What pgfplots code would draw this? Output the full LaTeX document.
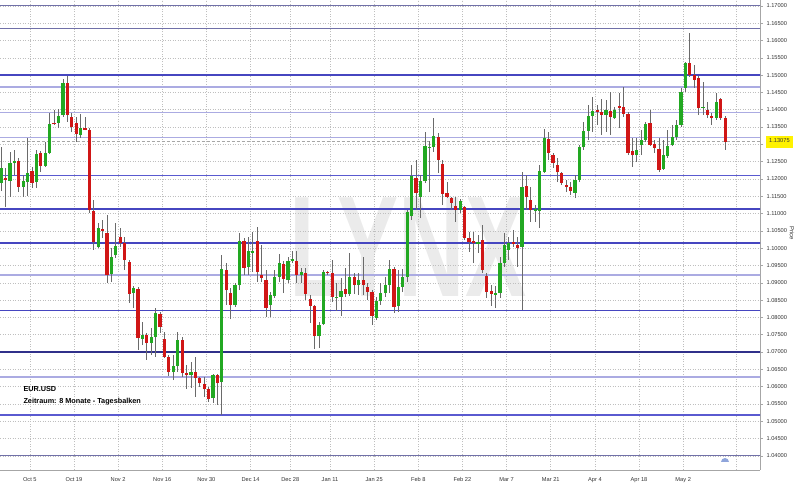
\documentclass[border=0pt]{standalone}
\usepackage{pgfplots}
\usepackage{pgfplotstable}
\usepackage{fontspec}
\setmainfont{Liberation Sans}
\pgfplotsset{compat=1.18}
\definecolor{cgreen}{HTML}{22A822}
\definecolor{cred}{HTML}{D01616}
\definecolor{wick}{HTML}{6A6A6A}
\definecolor{lnavy}{HTML}{30308A}
\definecolor{lblue}{HTML}{4646C0}
\definecolor{lmid}{HTML}{5A5AD0}
\definecolor{llav}{HTML}{ABABE2}
\definecolor{lgrayblue}{HTML}{7070A8}
\definecolor{ticktext}{HTML}{333333}

\pgfplotstableread{
k o h l c
0 1.1188 1.1292 1.1165 1.1232
1 1.1203 1.1232 1.1119 1.1197
2 1.1194 1.1278 1.1148 1.1246
3 1.1246 1.1284 1.1212 1.1252
4 1.1252 1.1261 1.1162 1.1177
5 1.1177 1.1212 1.1148 1.1194
6 1.1191 1.1319 1.1151 1.1217
7 1.1223 1.1235 1.1174 1.1188
8 1.1191 1.1284 1.1174 1.1272
9 1.1275 1.1281 1.1220 1.1238
10 1.1238 1.1307 1.1235 1.1275
11 1.1275 1.1391 1.1272 1.1359
12 1.1363 1.1399 1.1356 1.1358
13 1.1362 1.1402 1.1347 1.1382
14 1.1385 1.1489 1.1379 1.1477
15 1.1477 1.1498 1.1365 1.1385
16 1.1379 1.1391 1.1336 1.1350
17 1.1362 1.1379 1.1307 1.1330
18 1.1327 1.1388 1.1319 1.1347
19 1.1347 1.1379 1.1340 1.1342
20 1.1342 1.1347 1.1102 1.1110
21 1.1108 1.1139 1.0995 1.1018
22 1.1004 1.1073 1.1001 1.1058
23 1.1056 1.1082 1.1029 1.1050
24 1.1044 1.1096 1.0899 1.0923
25 1.0925 1.1001 1.0902 1.0975
26 1.0980 1.1073 1.0972 1.1006
27 1.1032 1.1058 1.1004 1.1015
28 1.1015 1.1032 1.0937 1.0966
29 1.0960 1.0966 1.0842 1.0868
30 1.0870 1.0891 1.0827 1.0885
31 1.0882 1.0888 1.0706 1.0740
32 1.0738 1.0787 1.0720 1.0749
33 1.0749 1.0755 1.0677 1.0726
34 1.0726 1.0769 1.0691 1.0743
35 1.0743 1.0827 1.0686 1.0813
36 1.0810 1.0816 1.0755 1.0772
37 1.0738 1.0758 1.0683 1.0686
38 1.0686 1.0691 1.0631 1.0642
39 1.0642 1.0691 1.0619 1.0660
40 1.0660 1.0758 1.0642 1.0735
41 1.0735 1.0743 1.0628 1.0639
42 1.0639 1.0662 1.0593 1.0634
43 1.0634 1.0671 1.0596 1.0642
44 1.0642 1.0686 1.0570 1.0625
45 1.0625 1.0628 1.0599 1.0610
46 1.0608 1.0628 1.0570 1.0593
47 1.0593 1.0599 1.0556 1.0564
48 1.0567 1.0636 1.0553 1.0634
49 1.0634 1.0636 1.0547 1.0610
50 1.0613 1.0980 1.0518 1.0940
51 1.0937 1.0957 1.0836 1.0879
52 1.0870 1.0885 1.0795 1.0836
53 1.0836 1.0899 1.0830 1.0894
54 1.0894 1.1044 1.0879 1.1021
55 1.1021 1.1029 1.0923 1.0943
56 1.0946 1.1032 1.0923 1.0992
57 1.0986 1.1047 1.0931 1.0992
58 1.1021 1.1061 1.0902 1.0931
59 1.0923 1.1009 1.0902 1.0914
60 1.0908 1.0937 1.0801 1.0827
61 1.0836 1.0873 1.0801 1.0865
62 1.0862 1.0937 1.0856 1.0917
63 1.0917 1.0983 1.0902 1.0957
64 1.0954 1.0963 1.0870 1.0911
65 1.0908 1.0975 1.0899 1.0963
66 1.0963 1.0992 1.0957 1.0969
67 1.0963 1.0992 1.0899 1.0923
68 1.0923 1.0943 1.0899 1.0931
69 1.0928 1.0943 1.0850 1.0868
70 1.0853 1.0865 1.0784 1.0833
71 1.0833 1.0836 1.0709 1.0746
72 1.0746 1.0787 1.0712 1.0778
73 1.0781 1.0937 1.0778 1.0931
74 1.0931 1.0934 1.0923 1.0928
75 1.0928 1.0966 1.0844 1.0859
76 1.0856 1.0899 1.0819 1.0859
77 1.0859 1.0914 1.0804 1.0876
78 1.0882 1.0943 1.0859 1.0868
79 1.0868 1.0986 1.0862 1.0917
80 1.0917 1.0928 1.0868 1.0894
81 1.0894 1.0928 1.0865 1.0908
82 1.0908 1.0975 1.0865 1.0894
83 1.0888 1.0899 1.0850 1.0873
84 1.0873 1.0879 1.0778 1.0804
85 1.0798 1.0859 1.0792 1.0847
86 1.0847 1.0899 1.0836 1.0870
87 1.0870 1.0917 1.0859 1.0894
88 1.0894 1.0966 1.0870 1.0940
89 1.0940 1.0946 1.0813 1.0830
90 1.0833 1.0937 1.0816 1.0888
91 1.0888 1.0940 1.0873 1.0917
92 1.0917 1.1110 1.0902 1.1105
93 1.1093 1.1240 1.1082 1.1209
94 1.1203 1.1255 1.1110 1.1160
95 1.1148 1.1212 1.1087 1.1194
96 1.1194 1.1336 1.1188 1.1295
97 1.1290 1.1310 1.1162 1.1292
98 1.1292 1.1376 1.1278 1.1324
99 1.1321 1.1333 1.1217 1.1255
100 1.1243 1.1255 1.1125 1.1157
101 1.1160 1.1191 1.1145 1.1148
102 1.1145 1.1148 1.1110 1.1131
103 1.1122 1.1148 1.1076 1.1110
104 1.1110 1.1142 1.1102 1.1136
105 1.1119 1.1122 1.1024 1.1029
106 1.1029 1.1047 1.0989 1.1018
107 1.1021 1.1047 1.0957 1.1015
108 1.1012 1.1038 1.0986 1.1018
109 1.1024 1.1067 1.0928 1.0937
110 1.0920 1.0928 1.0856 1.0873
111 1.0876 1.0894 1.0833 1.0868
112 1.0865 1.0891 1.0827 1.0870
113 1.0870 1.0975 1.0856 1.0957
114 1.0957 1.1044 1.0946 1.1009
115 1.0995 1.1032 1.0966 1.1015
116 1.1018 1.1053 1.1004 1.1012
117 1.1009 1.1032 1.0946 1.1001
118 1.1004 1.1220 1.0821 1.1177
119 1.1180 1.1212 1.1110 1.1148
120 1.1139 1.1177 1.1076 1.1110
121 1.1108 1.1125 1.1076 1.1113
122 1.1108 1.1240 1.1058 1.1223
123 1.1220 1.1344 1.1218 1.1319
124 1.1316 1.1336 1.1255 1.1275
125 1.1269 1.1275 1.1232 1.1246
126 1.1240 1.1261 1.1191 1.1220
127 1.1217 1.1220 1.1183 1.1188
128 1.1183 1.1197 1.1162 1.1177
129 1.1177 1.1191 1.1154 1.1165
130 1.1160 1.1212 1.1145 1.1197
131 1.1197 1.1298 1.1191 1.1292
132 1.1292 1.1365 1.1284 1.1339
133 1.1339 1.1414 1.1313 1.1382
134 1.1382 1.1437 1.1336 1.1397
135 1.1399 1.1414 1.1356 1.1394
136 1.1394 1.1431 1.1327 1.1385
137 1.1385 1.1428 1.1336 1.1399
138 1.1397 1.1451 1.1327 1.1379
139 1.1376 1.1408 1.1374 1.1399
140 1.1411 1.1449 1.1347 1.1405
141 1.1408 1.1466 1.1379 1.1388
142 1.1388 1.1394 1.1269 1.1275
143 1.1281 1.1319 1.1235 1.1269
144 1.1269 1.1319 1.1249 1.1284
145 1.1298 1.1342 1.1269 1.1313
146 1.1313 1.1365 1.1307 1.1359
147 1.1362 1.1399 1.1296 1.1298
148 1.1301 1.1313 1.1275 1.1290
149 1.1287 1.1319 1.1220 1.1226
150 1.1229 1.1313 1.1227 1.1269
151 1.1266 1.1342 1.1261 1.1295
152 1.1298 1.1356 1.1296 1.1321
153 1.1321 1.1371 1.1313 1.1356
154 1.1356 1.1463 1.1350 1.1451
155 1.1463 1.1538 1.1451 1.1535
156 1.1535 1.1622 1.1495 1.1501
157 1.1501 1.1529 1.1463 1.1486
158 1.1492 1.1498 1.1385 1.1405
159 1.1405 1.1480 1.1385 1.1408
160 1.1399 1.1423 1.1376 1.1385
161 1.1382 1.1391 1.1356 1.1376
162 1.1376 1.1449 1.1371 1.1423
163 1.1431 1.1433 1.1371 1.1376
164 1.1376 1.1382 1.1284 1.1307
}\candles

\begin{document}
\begin{tikzpicture}
% watermark
\node[text=gray!16, font=\bfseries\fontsize{144}{144}\selectfont, xscale=0.64, inner sep=0pt] at (408bp,239bp) {LYNX};
\begin{axis}[
  at={(0bp,16bp)}, anchor=south west,
  scale only axis, width=760bp, height=470bp,
  xmin=-0.25, xmax=171.9, ymin=1.0359, ymax=1.1717,
  axis x line*=bottom, axis y line*=right,
  axis line style={-, draw=gray!70, line width=0.6bp},
  xtick={6.5,16.5,26.5,36.5,46.5,56.5,65.5,74.5,84.5,94.5,104.5,114.5,124.5,134.5,144.5,154.5},
  xticklabels={Oct 5,Oct 19,Nov 2,Nov 16,Nov 30,Dec 14,Dec 28,Jan 11,Jan 25,Feb 8,Feb 22,Mar 7,Mar 21,Apr 4,Apr 18,May 2},
  extra x ticks={166.5}, extra x tick labels={},
  extra x tick style={grid=major},
  ytick={1.04,1.045,1.05,1.055,1.06,1.065,1.07,1.075,1.08,1.085,1.09,1.095,1.10,1.105,1.11,1.115,1.12,1.125,1.13,1.135,1.14,1.145,1.15,1.155,1.16,1.165,1.17},
  yticklabels={1.04000,1.04500,1.05000,1.05500,1.06000,1.06500,1.07000,1.07500,1.08000,1.08500,1.09000,1.09500,1.10000,1.10500,1.11000,1.11500,1.12000,1.12500,{},1.13500,1.14000,1.14500,1.15000,1.15500,1.16000,1.16500,1.17000},
  extra y ticks={1.13075}, extra y tick labels={\colorbox{yellow}{\strut 1.13075}},
  extra y tick style={grid=none, ytick style={draw=none}, yticklabel style={inner sep=0pt, xshift=3bp}},
  yticklabel pos=right,
  grid=major,
  major grid style={draw=gray!50, dash pattern=on 1bp off 1.5bp, line width=0.5bp},
  tick align=outside, major tick length=3bp,
  xtick style={draw=none}, ytick style={draw=gray!70, line width=0.5bp},
  tick label style={font=\fontsize{5.7}{6}\selectfont, text=ticktext},
  xticklabel style={yshift=-1bp},
  clip=true,
]
% horizontal support / resistance lines
\addplot[draw=lgrayblue, line width=0.9bp] coordinates {(-1,1.1700) (175,1.1700)};
\addplot[draw=lgrayblue, line width=1.1bp] coordinates {(-1,1.1634) (175,1.1634)};
\addplot[draw=lblue, line width=1.5bp] coordinates {(-1,1.1500) (175,1.1500)};
\addplot[draw=llav, line width=1.3bp] coordinates {(-1,1.1466) (175,1.1466)};
\addplot[draw=llav, line width=1.3bp] coordinates {(-1,1.1391) (175,1.1391)};
\addplot[draw=llav, line width=1.3bp] coordinates {(-1,1.1319) (175,1.1319)};
\addplot[draw=gray!70, dash pattern=on 3bp off 2bp, line width=0.6bp] coordinates {(-1,1.13075) (175,1.13075)};
\addplot[draw=lmid, line width=1.1bp] coordinates {(-1,1.1209) (175,1.1209)};
\addplot[draw=lblue, line width=1.5bp] coordinates {(-1,1.1113) (175,1.1113)};
\addplot[draw=lblue, line width=1.3bp] coordinates {(-1,1.1015) (175,1.1015)};
\addplot[draw=llav, line width=1.5bp] coordinates {(-1,1.0923) (175,1.0923)};
\addplot[draw=lblue, line width=1.3bp] coordinates {(-1,1.0819) (175,1.0819)};
\addplot[draw=lnavy, line width=1.3bp] coordinates {(-1,1.0700) (175,1.0700)};
\addplot[draw=llav, line width=1.3bp] coordinates {(-1,1.0628) (175,1.0628)};
\addplot[draw=lmid, line width=1.3bp] coordinates {(-1,1.0518) (175,1.0518)};
\addplot[draw=lgrayblue, line width=1.1bp] coordinates {(-1,1.0400) (175,1.0400)};
% wicks
\addplot[draw=none, mark=none, forget plot,
  error bars/.cd, y dir=plus, y explicit, error mark=none,
  error bar style={draw=wick, line width=0.8bp, solid}]
  table[x=k, y=l, y error plus expr=\thisrow{h}-\thisrow{l}] {\candles};
% green bodies
\addplot[draw=none, mark=none, forget plot,
  restrict expr to domain={\thisrow{c}-\thisrow{o}}{0:1},
  error bars/.cd, y dir=plus, y explicit, error mark=none,
  error bar style={draw=cgreen, line width=3.2bp, solid}]
  table[x=k, y=o, y error plus expr=\thisrow{c}-\thisrow{o}] {\candles};
% red bodies
\addplot[draw=none, mark=none, forget plot,
  restrict expr to domain={\thisrow{c}-\thisrow{o}}{-1:0},
  error bars/.cd, y dir=plus, y explicit, error mark=none,
  error bar style={draw=cred, line width=3.2bp, solid}]
  table[x=k, y=c, y error plus expr=\thisrow{o}-\thisrow{c}] {\candles};
\end{axis}
\node[anchor=base west, font=\bfseries\fontsize{7.3}{8}\selectfont] at (20bp,94bp) {EUR.USD};
\node[anchor=base west, font=\bfseries\fontsize{7.3}{8}\selectfont] at (20bp,82bp) {Zeitraum: 8 Monate - Tagesbalken};
\node[rotate=-90, font=\fontsize{6}{7}\selectfont, text=ticktext] at (792bp,253bp) {Price};
\fill[cyan!40!blue!45] (721bp,24bp) arc (180:0:4bp) -- cycle;
\pgfresetboundingbox
\path[use as bounding box] (0bp,0bp) rectangle (800bp,486bp);
\end{tikzpicture}
\end{document}
